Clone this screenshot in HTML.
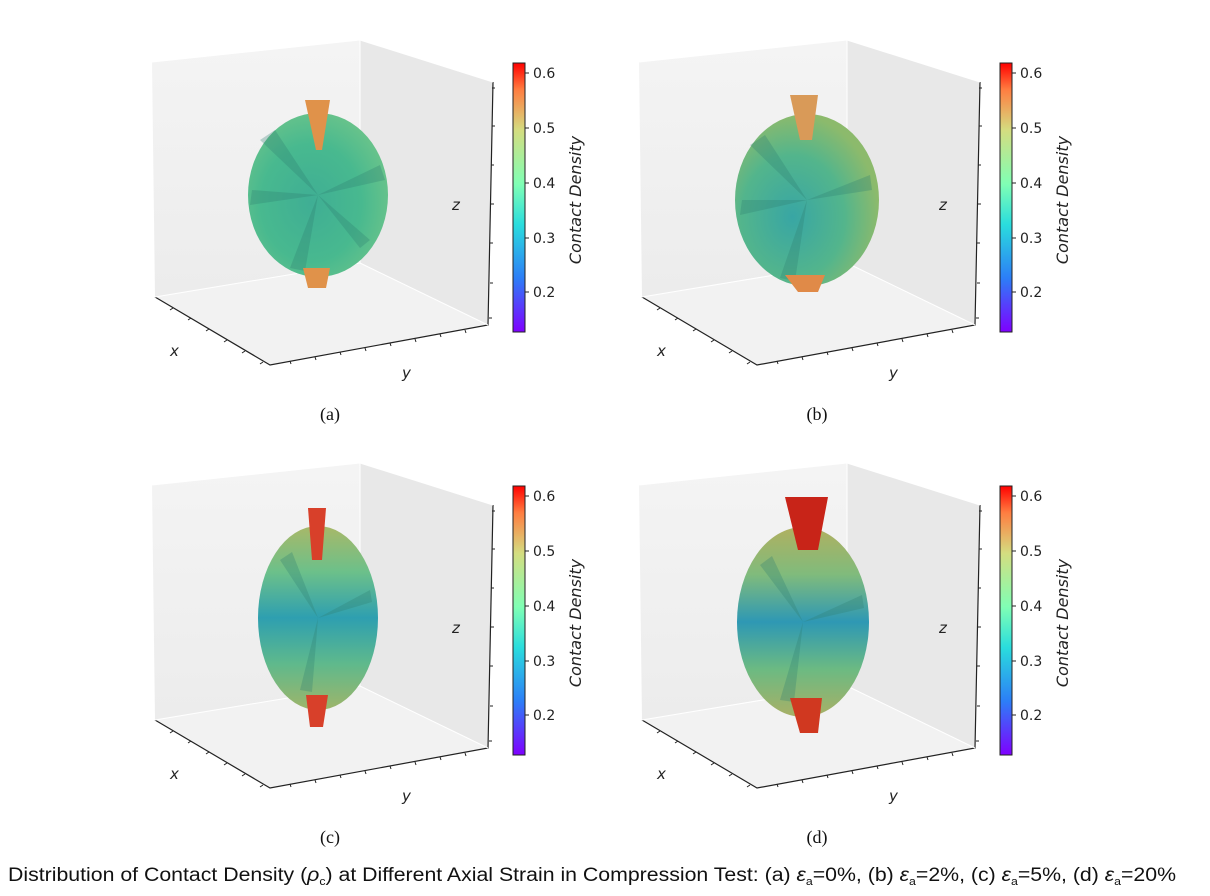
<!DOCTYPE html>
<html><head><meta charset="utf-8"><style>
html,body{margin:0;padding:0;background:#fff;}
svg{display:block;}
text{font-family:"DejaVu Sans","Liberation Sans",sans-serif;}
</style></head><body>
<svg width="1210" height="896" viewBox="0 0 1210 896" xmlns="http://www.w3.org/2000/svg">
<defs>
<linearGradient id="cb" x1="0" y1="1" x2="0" y2="0">
<stop offset="0" stop-color="#7f00ff"/><stop offset="0.2" stop-color="#2c7ef7"/>
<stop offset="0.4" stop-color="#2adddd"/><stop offset="0.55" stop-color="#80ffb4"/>
<stop offset="0.75" stop-color="#d4dd80"/><stop offset="0.9" stop-color="#ff7e41"/>
<stop offset="1" stop-color="#ff0000"/></linearGradient>
<linearGradient id="back" x1="0" y1="0" x2="0" y2="1"><stop offset="0" stop-color="#f4f4f4"/><stop offset="1" stop-color="#ececec"/></linearGradient>
<radialGradient id="sa" cx="0.45" cy="0.55" r="0.6"><stop offset="0" stop-color="#3fae94"/><stop offset="0.6" stop-color="#48b98f"/><stop offset="1" stop-color="#6cc48a"/></radialGradient>
<radialGradient id="sb" cx="0.4" cy="0.6" r="0.6"><stop offset="0" stop-color="#38a6a4"/><stop offset="0.6" stop-color="#53b58c"/><stop offset="1" stop-color="#8cba6c"/></radialGradient>
<linearGradient id="sc" x1="0" y1="0" x2="0" y2="1"><stop offset="0" stop-color="#a8b868"/><stop offset="0.25" stop-color="#6cc08a"/><stop offset="0.5" stop-color="#2e9fb0"/><stop offset="0.75" stop-color="#5fb98c"/><stop offset="1" stop-color="#9eb56a"/></linearGradient>
<linearGradient id="sd" x1="0" y1="0" x2="0" y2="1"><stop offset="0" stop-color="#b0b060"/><stop offset="0.25" stop-color="#80bb7c"/><stop offset="0.5" stop-color="#2e98b4"/><stop offset="0.75" stop-color="#6cba82"/><stop offset="1" stop-color="#a8b066"/></linearGradient>
<g id="box">
<polygon points="152,62 360,40 360,263 155,297" fill="url(#back)"/>
<polygon points="360,40 493,82 488,325 360,263" fill="#e8e8e8"/>
<polygon points="155,297 360,263 488,325 270,365" fill="#f2f2f2"/>
<path d="M155,297 L270,365 L488,325 L493,82" fill="none" stroke="#222" stroke-width="1.2"/>
<path d="M152,62 L360,40 L493,82 M360,40 L360,263 L155,297 M360,263 L488,325" fill="none" stroke="#fff" stroke-width="1"/>
<g stroke="#222" stroke-width="1">
<path d="M173,308 l-3,2 M191,318 l-3,2 M209,329 l-3,2 M227,340 l-3,2 M245,351 l-3,2 M263,362 l-3,2"/>
<path d="M290,361 l1,3 M315,357 l1,3 M340,352 l1,3 M365,348 l1,3 M390,343 l1,3 M415,339 l1,3 M440,334 l1,3 M465,330 l1,3"/>
<path d="M492,88 l3,0 M492,126 l3,0 M491,165 l3,0 M491,204 l3,0 M490,243 l3,0 M490,283 l3,0 M489,318 l3,0"/>
</g>
<text x="170" y="356" font-size="15" font-style="italic" fill="#222">x</text>
<text x="402" y="378" font-size="15" font-style="italic" fill="#222">y</text>
<text x="452" y="210" font-size="15" font-style="italic" fill="#222">z</text>
<rect x="513" y="63" width="12" height="269" fill="url(#cb)" stroke="#222" stroke-width="1"/>
<g stroke="#222"><path d="M525,73 h4 M525,128 h4 M525,183 h4 M525,238 h4 M525,292 h4"/></g>
<g font-size="14" fill="#222"><text x="533" y="78">0.6</text><text x="533" y="133">0.5</text><text x="533" y="188">0.4</text><text x="533" y="243">0.3</text><text x="533" y="297">0.2</text></g>
<text transform="translate(581,200) rotate(-90)" font-size="16" font-style="italic" fill="#222" text-anchor="middle">Contact Density</text>
</g>
</defs>

<!-- (a) -->
<use href="#box"/>
<ellipse cx="318" cy="195" rx="70" ry="82" fill="url(#sa)"/>
<g fill="#2f7f70" opacity="0.3"><path d="M318,195 L260,140 L275,130Z M318,195 L380,165 L385,180Z M318,195 L290,268 L305,271Z M318,195 L250,205 L252,190Z M318,195 L370,240 L360,248Z"/></g>
<polygon points="305,100 330,100 322,150 316,150" fill="#e0924a"/>
<polygon points="303,268 330,268 326,288 308,288" fill="#e0924a"/>
<text x="330" y="420" font-size="18" text-anchor="middle" fill="#111" style="font-family:'Liberation Serif',serif">(a)</text>

<!-- (b) -->
<use href="#box" transform="translate(487,0)"/>
<ellipse cx="807" cy="200" rx="72" ry="86" fill="url(#sb)"/>
<g fill="#2f7f70" opacity="0.3"><path d="M807,200 L750,145 L765,135Z M807,200 L870,175 L872,190Z M807,200 L780,278 L795,281Z M807,200 L740,215 L742,200Z"/></g>
<polygon points="790,95 818,95 812,140 800,140" fill="#d99a58"/>
<polygon points="785,275 825,275 818,292 798,292" fill="#e08a48"/>
<text x="817" y="420" font-size="18" text-anchor="middle" fill="#111" style="font-family:'Liberation Serif',serif">(b)</text>

<!-- (c) -->
<use href="#box" transform="translate(0,423)"/>
<ellipse cx="318" cy="618" rx="60" ry="92" fill="url(#sc)"/>
<g fill="#2f7f70" opacity="0.3"><path d="M318,618 L280,560 L292,552Z M318,618 L370,590 L372,602Z M318,618 L300,690 L312,692Z"/></g>
<polygon points="308,508 326,508 322,560 312,560" fill="#d8402a"/>
<polygon points="306,695 328,695 323,727 310,727" fill="#d8402a"/>
<text x="330" y="843" font-size="18" text-anchor="middle" fill="#111" style="font-family:'Liberation Serif',serif">(c)</text>

<!-- (d) -->
<use href="#box" transform="translate(487,423)"/>
<ellipse cx="803" cy="622" rx="66" ry="95" fill="url(#sd)"/>
<g fill="#2f7f70" opacity="0.3"><path d="M803,622 L760,565 L772,556Z M803,622 L862,595 L864,608Z M803,622 L780,700 L794,702Z"/></g>
<polygon points="785,497 828,497 818,550 798,550" fill="#c82418"/>
<polygon points="790,698 822,698 818,733 800,733" fill="#d03820"/>
<text x="817" y="843" font-size="18" text-anchor="middle" fill="#111" style="font-family:'Liberation Serif',serif">(d)</text>

<text x="8" y="881" font-size="19" fill="#111" style="font-family:'Liberation Sans Narrow','Liberation Sans',sans-serif" textLength="1168" lengthAdjust="spacingAndGlyphs">Distribution of Contact Density (<tspan font-style="italic">ρ</tspan><tspan font-size="11" dy="4">c</tspan><tspan dy="-4">) at Different Axial Strain in Compression Test: (a) </tspan><tspan font-style="italic">ε</tspan><tspan font-size="11" dy="4">a</tspan><tspan dy="-4">=0%, (b) </tspan><tspan font-style="italic">ε</tspan><tspan font-size="11" dy="4">a</tspan><tspan dy="-4">=2%, (c) </tspan><tspan font-style="italic">ε</tspan><tspan font-size="11" dy="4">a</tspan><tspan dy="-4">=5%, (d) </tspan><tspan font-style="italic">ε</tspan><tspan font-size="11" dy="4">a</tspan><tspan dy="-4">=20%</tspan></text>
</svg>
</body></html>
